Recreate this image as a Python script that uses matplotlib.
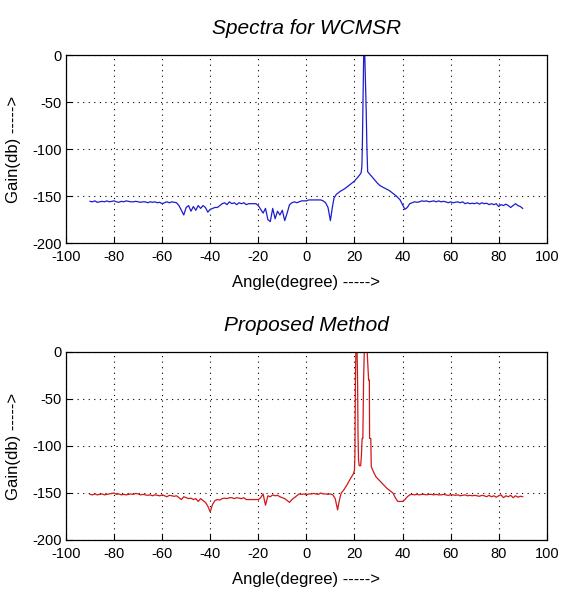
import matplotlib
matplotlib.use("Agg")
import matplotlib.pyplot as plt

# ---- data: WCMSR spectrum (top) ----
wcmsr_angle = [-90, -89, -88, -87, -86, -85, -84, -83, -82, -81, -80, -79, -78, -77, -76, -75,
               -74, -73, -72, -71, -70, -69, -68, -67, -66, -65, -64, -63, -62, -61, -60, -59,
               -58, -57, -56, -55, -54, -53, -52, -51, -50, -49, -48, -47, -46, -45, -44, -43,
               -42, -41, -40, -39, -38, -37, -36, -35, -34, -33, -32, -31, -30, -29, -28, -27,
               -26, -25, -24, -23, -22, -21, -20, -19, -18, -17, -16, -15, -14, -13, -12, -11,
               -10, -9, -8, -7, -6, -5, -4, -3, -2, -1, 0, 1, 2, 3, 4, 5, 6, 7, 8, 9, 10,
               10.8, 11.5, 12.5, 14, 15, 16, 17, 18, 19, 20, 21, 22, 22.8, 23.1, 23.3, 23.5,
               23.7, 23.85, 24.3, 24.6, 24.9, 25.2, 25.5, 26.5, 27.5, 28.5, 29.5, 30.5, 31.5,
               33, 34.5, 36, 37.5, 39, 40, 41, 42, 43, 44, 45, 46, 47, 48, 49, 50, 51, 52, 53,
               54, 55, 56, 57, 58, 59, 60, 61, 62, 63, 64, 65, 66, 67, 68, 69, 70, 71, 72, 73,
               74, 75, 76, 77, 78, 79, 80, 81, 82, 83, 84, 85, 86, 87, 88, 89, 90]
wcmsr_gain = [-155.5, -156, -155, -156.5, -156, -155.5, -156, -155, -156, -155.5, -155, -156, -156.5, -155.5, -156, -155,
              -155.5, -156, -156, -155.5, -156, -156.5, -156, -156, -157, -156, -156.5, -156, -157, -156.5, -158, -157,
              -156, -157, -156, -156.5, -157, -160, -165, -170, -162, -160, -166, -161, -165, -160, -163, -160,
              -162, -167, -164, -163, -162, -162, -160, -158, -157, -159, -156, -158, -157, -159, -157, -158,
              -157, -159, -158, -158, -158, -158, -160, -164, -168, -163, -175, -177, -163, -174, -166, -170,
              -165, -176, -168, -159, -157, -156, -157, -156, -155, -155, -155, -154, -154, -154, -154, -154, -154, -155, -157, -162, -176,
              -162, -152, -148, -145, -143.5, -142, -140, -138, -136, -134, -131, -128, -125, -118, -95, -60,
              -30, 0, 0, -30, -60, -100, -124, -127, -130, -133, -136, -138.5, -140,
              -142, -144, -147, -150, -154, -159, -164, -162, -158, -157, -156, -156.5, -156, -155, -155.5, -155, -156, -155.5, -155,
              -156, -155, -156, -155.5, -156, -157, -156, -157, -156.5, -156, -157, -156, -158, -157, -158, -157.5, -158, -157, -158.5, -157,
              -158, -157.5, -159, -158, -159, -158, -161, -159, -160, -158.5, -160, -162, -160, -158, -160, -161, -163]

# ---- data: proposed method spectrum (bottom) ----
prop_angle = [-90, -89, -88, -87, -86, -85, -84, -83, -82, -81, -80, -79, -78, -77, -76, -75,
              -74, -73, -72, -71, -70, -69, -68, -67, -66, -65, -64, -63, -62, -61, -60, -59,
              -58, -57, -56, -55, -54, -53, -52, -51, -50, -49, -48, -47, -46, -45, -44, -43,
              -42, -41, -40, -39, -38, -37, -36, -35, -34, -33, -32, -31, -30, -29, -28, -27,
              -26, -25, -24, -23, -22, -21, -20, -19, -18, -17, -16, -15, -14, -13, -12, -11,
              -10, -9, -8, -7, -6, -5, -4, -3, -2, -1, 0, 1, 2, 3, 4, 5, 6, 7, 8, 9, 10, 11, 12,
              13, 13.7, 14.5, 15.5, 17, 18.5, 19.5, 20.0, 20.2, 20.4, 20.6, 21.1, 21.3, 21.5,
              21.7, 22.0, 22.6, 22.9, 23.2, 23.5, 23.8, 24.1, 25.3, 25.9, 26.2, 26.3, 26.8, 27.0,
              28, 29, 30.5, 32, 33.5, 35, 36, 37, 38, 39, 40, 41, 42, 43, 44, 45, 46, 47, 48,
              49, 50, 51, 52, 53, 54, 55, 56, 57, 58, 59, 60, 61, 62, 63, 64, 65, 66, 67, 68,
              69, 70, 71, 72, 73, 74, 75, 76, 77, 78, 79, 80, 81, 82, 83, 84, 85, 86, 87, 88, 89, 90]
prop_gain = [-151.5, -152, -151, -152, -151.5, -151, -152, -151.5, -151, -150.5, -150, -151.5, -151, -152, -151.5, -152,
             -151.5, -151, -151.5, -150.5, -151, -152, -151.5, -152, -152.5, -152, -153, -152, -152.5, -153, -152, -153,
             -154, -152.5, -153, -153.5, -153, -155, -157, -154, -155, -156, -155.5, -157, -156, -159, -156, -158,
             -160, -164, -170, -162, -158, -157, -157.5, -156, -155.5, -156, -155, -155, -156, -155, -155.5, -156,
             -155, -157, -157, -157, -157, -157, -157, -155, -151, -163, -153, -154, -152, -153, -152.5, -154,
             -155, -156, -158, -160, -157, -155, -153, -151, -151.5, -151, -152, -151, -151, -150.5, -151, -151.5, -150, -151, -151, -151.5, -151, -152, -156,
             -168, -158, -150, -147, -141, -134, -130, -126, -110, -30, 0, 0, -30, -90,
             -115, -121, -121, -110, -92, -92, -30, 0, 0, -30, -30, -92, -92, -122,
             -128, -133, -137, -141, -145, -148, -150, -155, -159, -159, -159, -157, -154, -152, -151.5, -152, -151.5, -152, -151.5,
             -151.5, -152, -151.5, -151.5, -152, -151.5, -152, -152, -151.5, -152, -152.5, -152, -152, -152.5, -152, -153, -152.5, -152, -153, -152.5,
             -153, -152.5, -153, -153.5, -152.5, -153, -154, -152.5, -154, -153, -154.5, -153, -152, -155, -153, -154, -152.5, -155, -153, -154.5, -153.5, -154]

xticks = [-100, -80, -60, -40, -20, 0, 20, 40, 60, 80, 100]
yticks = [-200, -150, -100, -50, 0]

plt.rcParams['font.family'] = ['Liberation Sans', 'DejaVu Sans']

fig = plt.figure(figsize=(5.61, 5.99), dpi=100)

panels = [
    (0.594, wcmsr_angle, wcmsr_gain, '#1c1cd0', 'Spectra for WCMSR'),
    (0.0985, prop_angle, prop_gain, '#d01818', 'Proposed Method'),
]

for bottom, xs, ys, color, title in panels:
    ax = fig.add_axes([0.1176, bottom, 0.857, 0.314])
    ax.plot(xs, ys, color=color, lw=0.9)
    ax.set_xlim(-100, 100)
    ax.set_ylim(-200, 0)
    ax.set_xticks(xticks)
    ax.set_yticks(yticks)
    ax.set_xticklabels([str(t) for t in xticks])
    ax.set_yticklabels([str(t) for t in yticks])
    ax.grid(True, color='black', linestyle=(0, (1, 4)), linewidth=0.8)
    ax.tick_params(direction='in', length=4, labelsize=10.5, colors='black')
    ax.tick_params(axis='x', pad=5)
    ax.tick_params(axis='y', pad=3)
    for sp in ax.spines.values():
        sp.set_linewidth(0.9)
    ax.set_xlabel('Angle(degree) ----->', fontsize=12, labelpad=8)
    ax.set_ylabel('Gain(db) ----->', fontsize=12, labelpad=8)
    ax.set_title(title, fontsize=15, style='italic', pad=15)

fig.savefig('out.png', dpi=100)
